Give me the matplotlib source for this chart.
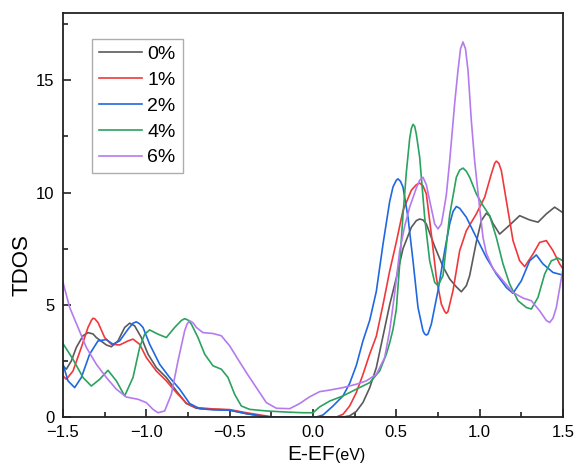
import matplotlib
matplotlib.use('Agg')
import matplotlib.pyplot as plt
from matplotlib.ticker import MultipleLocator

plt.rcParams['font.family'] = ['Liberation Sans', 'DejaVu Sans']

# energy (eV) and TDOS for each strain level
x0 = [-1.50, -1.48, -1.45, -1.42, -1.38, -1.35, -1.32, -1.30, -1.24, -1.21, -1.17, -1.13, -1.10, -1.07,
      -1.03, -0.99, -0.94, -0.88, -0.82, -0.76, -0.70, -0.60, -0.50, -0.40, -0.30, -0.27, 0.00,
      0.18, 0.22, 0.26, 0.30, 0.34, 0.38, 0.42, 0.46, 0.50, 0.54, 0.59, 0.62, 0.64, 0.66, 0.68, 0.73, 0.78,
      0.82, 0.86, 0.89, 0.92, 0.94, 0.98, 1.01, 1.04, 1.06, 1.08, 1.12, 1.18, 1.24, 1.30, 1.35, 1.40, 1.45, 1.50]
y0 = [2.28, 2.13, 2.50, 3.10, 3.62, 3.76, 3.70, 3.54, 3.21, 3.13, 3.39, 3.99, 4.18, 4.06,
      3.54, 2.80, 2.20, 1.76, 1.16, 0.60, 0.39, 0.34, 0.31, 0.15, 0.03, 0.00, 0.00,
      0.00, 0.05, 0.25, 0.65, 1.30, 2.20, 3.60, 5.00, 6.20, 7.50, 8.45, 8.75, 8.82, 8.78, 8.60, 7.60, 6.70,
      6.15, 5.80, 5.58, 5.85, 6.30, 7.80, 8.75, 9.08, 8.95, 8.62, 8.15, 8.55, 8.97, 8.78, 8.68, 9.05, 9.35, 9.10]

x1 = [-1.50, -1.48, -1.44, -1.39, -1.35, -1.33, -1.32, -1.31, -1.29, -1.25, -1.21, -1.16, -1.11, -1.08, -1.04,
      -1.00, -0.94, -0.88, -0.82, -0.76, -0.70, -0.60, -0.50, -0.40, -0.30, -0.24, 0.14, 0.18,
      0.22, 0.26, 0.30, 0.34, 0.38, 0.42, 0.46, 0.50, 0.54, 0.59, 0.62, 0.64, 0.66, 0.68, 0.71, 0.74, 0.77,
      0.79, 0.80, 0.81, 0.84, 0.88, 0.92, 0.98, 1.03, 1.07, 1.09, 1.10, 1.115, 1.13, 1.16, 1.20, 1.24, 1.27, 1.32, 1.36,
      1.40, 1.44, 1.48, 1.50]
y1 = [1.83, 1.68, 2.05, 3.10, 3.99, 4.30, 4.40, 4.38, 4.21, 3.54, 3.24, 3.21, 3.39, 3.47, 3.24,
      2.65, 2.05, 1.61, 1.09, 0.62, 0.42, 0.36, 0.33, 0.19, 0.07, 0.00, 0.00, 0.12,
      0.49, 1.09, 1.90, 2.80, 3.60, 5.00, 6.50, 7.80, 9.20, 10.10, 10.35, 10.42, 10.30, 9.94, 8.15, 6.22, 5.03,
      4.70, 4.62, 4.70, 5.63, 7.41, 8.30, 9.05, 9.79, 10.83, 11.30, 11.40, 11.30, 10.98, 9.64, 7.86, 6.96, 6.70, 7.26, 7.78,
      7.86, 7.41, 6.82, 6.60]

x2 = [-1.50, -1.47, -1.43, -1.39, -1.34, -1.29, -1.24, -1.20, -1.16, -1.11, -1.08, -1.06, -1.04, -1.02, -0.98,
      -0.92, -0.86, -0.80, -0.74, -0.68, -0.60, -0.50, -0.40, -0.30, -0.26, 0.02, 0.06, 0.12,
      0.18, 0.22, 0.26, 0.30, 0.34, 0.38, 0.42, 0.46, 0.48, 0.50, 0.51, 0.525, 0.54, 0.57, 0.60, 0.63, 0.66,
      0.67, 0.68, 0.69, 0.71, 0.75, 0.79, 0.82, 0.84, 0.86, 0.88, 0.92, 0.98, 1.04, 1.10, 1.16, 1.20, 1.25, 1.30, 1.34,
      1.38, 1.44, 1.50]
y2 = [2.35, 1.61, 1.31, 1.76, 2.80, 3.39, 3.45, 3.24, 3.39, 3.91, 4.18, 4.24, 4.15, 3.99, 3.24,
      2.35, 1.76, 1.24, 0.60, 0.37, 0.32, 0.30, 0.15, 0.04, 0.00, 0.00, 0.09, 0.49,
      0.94, 1.50, 2.30, 3.40, 4.30, 5.60, 7.70, 9.60, 10.25, 10.55, 10.61, 10.50, 10.24, 8.90, 6.96, 4.88, 3.84,
      3.70, 3.65, 3.70, 4.14, 5.63, 7.41, 8.60, 9.15, 9.38, 9.30, 8.90, 8.00, 7.11, 6.37, 5.77, 5.51, 6.07, 6.96, 7.22,
      6.82, 6.44, 6.32]

x4 = [-1.50, -1.44, -1.38, -1.33, -1.28, -1.23, -1.18, -1.13, -1.08, -1.04, -1.01, -0.98, -0.93,
      -0.88, -0.83, -0.79, -0.77, -0.75, -0.73, -0.69, -0.65, -0.60, -0.55, -0.51, -0.47, -0.43, -0.38, -0.28,
      -0.16, -0.06, 0.00, 0.04, 0.10, 0.18, 0.26, 0.34, 0.40, 0.44, 0.46, 0.48, 0.50, 0.52, 0.54,
      0.56, 0.58, 0.59, 0.60, 0.61, 0.62, 0.64, 0.67, 0.70, 0.73, 0.75, 0.78, 0.82, 0.86, 0.88, 0.90, 0.92, 0.94, 0.98,
      1.02, 1.06, 1.10, 1.14, 1.18, 1.23, 1.28, 1.31, 1.35, 1.39, 1.43, 1.47, 1.50]
y4 = [3.27, 2.57, 1.76, 1.38, 1.68, 2.08, 1.61, 0.94, 1.76, 3.10, 3.69, 3.88, 3.69,
      3.54, 3.99, 4.30, 4.38, 4.32, 4.14, 3.54, 2.80, 2.28, 2.13, 1.76, 1.01, 0.49, 0.34, 0.27,
      0.22, 0.19, 0.19, 0.45, 0.71, 0.94, 1.24, 1.53, 2.05, 2.80, 3.30, 3.90, 4.80, 6.80, 9.00,
      10.90, 12.40, 12.85, 13.04, 12.95, 12.60, 11.58, 8.90, 6.96, 6.00, 5.85, 6.30, 9.00, 10.68, 11.00, 11.09, 10.95, 10.68, 9.94,
      9.42, 8.97, 8.00, 6.82, 5.92, 5.18, 4.88, 4.81, 5.33, 6.37, 6.96, 7.08, 6.96]

x6 = [-1.50, -1.46, -1.41, -1.36, -1.30, -1.24, -1.18, -1.12, -1.05, -1.00, -0.96, -0.93, -0.89,
      -0.85, -0.81, -0.77, -0.755, -0.74, -0.72, -0.70, -0.66, -0.60, -0.55, -0.50, -0.45, -0.40, -0.34, -0.28,
      -0.22, -0.14, -0.08, -0.02, 0.04, 0.10, 0.18, 0.26, 0.32, 0.38, 0.43, 0.46, 0.49, 0.52, 0.55,
      0.58, 0.62, 0.64, 0.66, 0.68, 0.70, 0.73, 0.75, 0.77, 0.78, 0.80, 0.82, 0.85, 0.87, 0.885, 0.90, 0.915,
      0.93, 0.95, 0.97, 1.00, 1.02, 1.04, 1.08, 1.14, 1.20, 1.26, 1.31, 1.36, 1.40, 1.42, 1.44, 1.46, 1.50]
y6 = [6.00, 4.88, 3.99, 3.10, 2.35, 1.76, 1.24, 0.89, 0.79, 0.64, 0.34, 0.19, 0.27,
      1.01, 2.50, 3.84, 4.15, 4.29, 4.20, 3.99, 3.76, 3.72, 3.62, 3.17, 2.57, 1.98, 1.31, 0.64,
      0.39, 0.37, 0.60, 0.90, 1.13, 1.20, 1.31, 1.46, 1.61, 1.90, 2.65, 3.84, 5.50, 7.40, 8.50,
      9.35, 10.20, 10.55, 10.68, 10.35, 9.64, 8.60, 8.38, 8.60, 9.00, 9.90, 11.40, 13.97, 15.45, 16.40, 16.71, 16.40,
      15.45, 13.20, 11.40, 9.30, 8.00, 7.30, 6.60, 6.07, 5.55, 5.30, 5.18, 4.73, 4.30, 4.21, 4.40, 4.88, 6.60]

labels = ['0%', '1%', '2%', '4%', '6%']
colors = ['#5a5a5a', '#f0383c', '#2068e0', '#2ca25f', '#b57bee']

fig = plt.figure(figsize=(5.77, 4.71), dpi=100)
ax = fig.add_axes([63 / 577, 54 / 471, 500 / 577, 404 / 471])

for xs, ys, lab, c in zip([x0, x1, x2, x4, x6], [y0, y1, y2, y4, y6], labels, colors):
    ax.plot(xs, ys, color=c, lw=1.2, label=lab, solid_joinstyle='round')

ax.set_xlim(-1.5, 1.5)
ax.set_ylim(0, 18)
ax.xaxis.set_major_locator(MultipleLocator(0.5))
ax.xaxis.set_minor_locator(MultipleLocator(0.25))
ax.yaxis.set_major_locator(MultipleLocator(5))
ax.yaxis.set_minor_locator(MultipleLocator(2.5))
ax.set_xticks([-1.5, -1.0, -0.5, 0.0, 0.5, 1.0, 1.5])
ax.set_xticklabels(['\u22121.5', '\u22121.0', '\u22120.5', '0.0', '0.5', '1.0', '1.5'])
ax.tick_params(which='both', direction='in', width=1.2, labelsize=12, color='#222222')
ax.tick_params(which='major', length=6, pad=6)
ax.tick_params(which='minor', length=3.5)
ax.tick_params(top=False, right=False)
for s in ax.spines.values():
    s.set_linewidth(1.3)
    s.set_color('#222222')

leg = ax.legend(loc='upper left', bbox_to_anchor=(0.058, 0.936), borderaxespad=0,
                fontsize=14, frameon=True, fancybox=False, handlelength=2.2,
                handletextpad=0.3, labelspacing=0.42, borderpad=0.35)
leg.get_frame().set_edgecolor('#999999')
leg.get_frame().set_linewidth(1.0)

fig.text(22 / 577, 1 - 265 / 471, 'TDOS', rotation=90, ha='center', va='center', fontsize=16)
fig.text(287 / 577, 1 - 460 / 471, 'E-EF', ha='left', va='baseline', fontsize=15)
fig.text(335 / 577, 1 - 460 / 471, '(eV)', ha='left', va='baseline', fontsize=11.5)

fig.savefig('out.png', dpi=100)
